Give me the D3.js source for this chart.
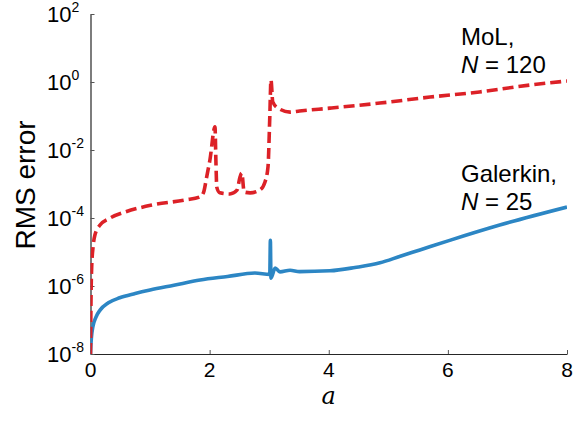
<!DOCTYPE html>
<html>
<head>
<meta charset="utf-8">
<script src="https://cdn.jsdelivr.net/npm/d3@7"></script>
<style>
  body { margin: 0; background: #fff; }
  svg { display: block; font-family: Arial, "Liberation Sans", sans-serif; }
</style>
</head>
<body>
<svg id="chart" width="573" height="421"></svg>
<script>
// Galerkin, N = 25 (solid blue)
const galerkinA = [0, 0.005, 0.015, 0.04, 0.09, 0.16, 0.3, 0.49, 0.75, 1.0, 1.4, 1.84, 2.3, 2.76, 3.01, 3.02, 3.03, 3.10, 3.18, 3.35, 3.51, 4.02, 4.44, 4.86, 5.2, 5.53, 6.03, 6.87, 8.0];
const galerkinRms = [1e-8, 1.6e-8, 3.0e-8, 6.3e-8, 1.2e-7, 1.95e-7, 3.2e-7, 4.5e-7, 6.0e-7, 7.6e-7, 1.05e-6, 1.5e-6, 1.9e-6, 2.4e-6, 2.2e-6, 2.2e-5, 1.7e-6, 3.4e-6, 2.6e-6, 2.9e-6, 2.65e-6, 2.8e-6, 3.5e-6, 4.8e-6, 7.5e-6, 1.15e-5, 2.2e-5, 6.2e-5, 2.1e-4];

// MoL, N = 120 (dashed red)
const molA = [0, 0.01, 0.02, 0.045, 0.075, 0.16, 0.33, 0.58, 1.03, 1.59, 1.84, 1.90, 1.95, 2.005, 2.09, 2.105, 2.12, 2.17, 2.34, 2.46, 2.51, 2.54, 2.58, 2.68, 2.84, 2.93, 2.98, 3.01, 3.03, 3.06, 3.15, 3.35, 3.51, 4.02, 4.86, 5.70, 6.53, 7.37, 8.0];
const molRms = [1e-8, 6.3e-7, 3.6e-6, 1.5e-5, 3.2e-5, 6.2e-5, 1.0e-4, 1.5e-4, 2.4e-4, 3.4e-4, 4.2e-4, 5.8e-4, 1.6e-3, 5.1e-3, 4.8e-2, 5.1e-3, 8.1e-4, 5.5e-4, 5.1e-4, 6.6e-4, 1.6e-3, 2.1e-3, 5.8e-4, 5.5e-4, 6.6e-4, 1.15e-3, 3.2e-3, 9.3e-2, 1.15, 0.26, 0.17, 0.13, 0.14, 0.17, 0.24, 0.36, 0.51, 0.81, 1.07];

// axis ticks
const xTicks = [0, 2, 4, 6, 8];
const yTickExps = [2, 0, -2, -4, -6, -8];

const svg = d3.select("#chart");

const x = d3.scaleLinear().domain([0, 8]).range([90.5, 567]);
const y = d3.scaleLog().domain([1e-8, 1e2]).range([354, 14]);

svg.append("defs").append("clipPath").attr("id", "plotClip")
  .append("rect")
  .attr("x", x(0)).attr("y", y(1e2))
  .attr("width", x(8) - x(0)).attr("height", y(1e-8) - y(1e2));

// Axes (ticks point inward, no box)
const xAxis = svg.append("g")
  .attr("transform", `translate(0,${y(1e-8)})`)
  .call(d3.axisBottom(x).tickValues(xTicks).tickSizeInner(-4).tickSizeOuter(0).tickFormat(""));
const yAxis = svg.append("g")
  .attr("transform", `translate(${x(0)},0)`)
  .call(d3.axisLeft(y).tickValues(yTickExps.map(e => Math.pow(10, e))).tickSizeInner(-4).tickSizeOuter(0).tickFormat(""));
[xAxis, yAxis].forEach(g => {
  g.select(".domain").attr("stroke", "#262626").attr("stroke-width", 1.2);
  g.selectAll(".tick line").attr("stroke", "#555").attr("stroke-width", 1);
});

// x tick labels
svg.append("g").selectAll("text")
  .data(xTicks)
  .join("text")
  .attr("x", d => x(d))
  .attr("y", 377)
  .attr("text-anchor", "middle")
  .attr("font-size", 21)
  .attr("fill", "#000")
  .text(d => d);

// y tick labels: 10^e
const yl = svg.append("g").selectAll("text")
  .data(yTickExps)
  .join("text")
  .attr("x", 47)
  .attr("y", d => y(Math.pow(10, d)) + 8)
  .attr("font-size", 22)
  .attr("fill", "#000");
yl.append("tspan").text("10");
yl.append("tspan").attr("dy", -10).attr("font-size", 14).text(d => d < 0 ? "-" + (-d) : d);

// axis titles
svg.append("text")
  .attr("transform", `translate(35,185) rotate(-90)`)
  .attr("text-anchor", "middle")
  .attr("font-size", 28)
  .attr("fill", "#000")
  .text("RMS error");

svg.append("text")
  .attr("x", x(4))
  .attr("y", 404)
  .attr("text-anchor", "middle")
  .attr("font-family", "'DejaVu Serif', 'Liberation Serif', serif")
  .attr("font-style", "italic")
  .attr("font-size", 24)
  .attr("fill", "#000")
  .text("a");

// series
const line = d3.line()
  .x(d => x(d[0]))
  .y(d => y(d[1]))
  .curve(d3.curveMonotoneX);

const plot = svg.append("g").attr("clip-path", "url(#plotClip)");

plot.append("path")
  .datum(d3.zip(galerkinA, galerkinRms))
  .attr("fill", "none")
  .attr("stroke", "#2c86c4")
  .attr("stroke-width", 3.6)
  .attr("stroke-linejoin", "round")
  .attr("d", line);

plot.append("path")
  .datum(d3.zip(molA, molRms))
  .attr("fill", "none")
  .attr("stroke", "#dc2127")
  .attr("stroke-width", 3.6)
  .attr("stroke-dasharray", "11,5")
  .attr("d", line);

// annotations
const notes = [
  { label: "MoL,", n: "120", y0: 45 },
  { label: "Galerkin,", n: "25", y0: 182 }
];
notes.forEach(nt => {
  svg.append("text")
    .attr("x", 461)
    .attr("y", nt.y0)
    .attr("font-size", 24)
    .attr("fill", "#000")
    .text(nt.label);
  const t2 = svg.append("text")
    .attr("x", 461)
    .attr("y", nt.y0 + 28)
    .attr("font-size", 24)
    .attr("fill", "#000");
  t2.append("tspan").attr("font-style", "italic").text("N");
  t2.append("tspan").text(" = " + nt.n);
});
</script>
</body>
</html>
